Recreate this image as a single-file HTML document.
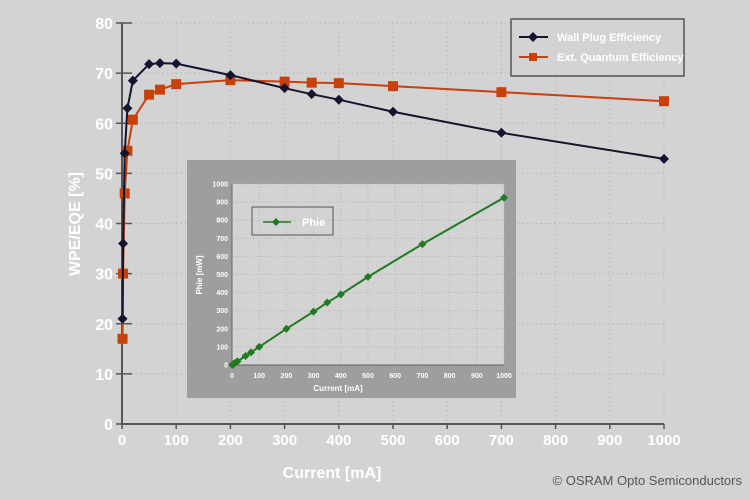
<!DOCTYPE html>
<html><head><meta charset="utf-8"><style>
body{margin:0;background:#d3d3d3;}
svg{display:block;font-family:"Liberation Sans",sans-serif;}
</style></head><body>
<svg id="c" width="750" height="500" viewBox="0 0 750 500">
<rect width="750" height="500" fill="#d3d3d3"/>
<g id="main"></g>
<g id="inset"></g>
</svg>
<script>
const currents=[1,2,5,10,20,50,70,100,200,300,350,400,500,700,1000];
const wpe=[21,36,54,63,68.5,71.8,72,71.9,69.6,67,65.8,64.7,62.3,58.1,52.9];
const eqe=[17,30,46,54.5,60.7,65.7,66.7,67.8,68.6,68.3,68.1,68,67.4,66.2,64.4];
const phi=[1,2,5,10,20,50,70,100,200,295,345,390,487,668,925];
const xTicks=[0,100,200,300,400,500,600,700,800,900,1000];
const yTicks=[0,10,20,30,40,50,60,70,80];
const insetYTicks=[0,100,200,300,400,500,600,700,800,900,1000];
const NS="http://www.w3.org/2000/svg";
function mk(parent,tag,attrs,name,text){const e=document.createElementNS(NS,tag);for(const k in attrs)e.setAttribute(k,attrs[k]);


if(text!==undefined)e.textContent=text;parent.appendChild(e);return e;}
const main=document.getElementById('main'),inset=document.getElementById('inset');
const X=v=>122+v*(664-122)/1000, Y=v=>424-v*(424-23)/80;
// grid
xTicks.forEach(t=>{if(t>0)mk(main,'line',{x1:X(t),x2:X(t),y1:Y(80),y2:Y(0),stroke:'#b8b8b8','stroke-dasharray':'1.5,3'},'x-grid-line');
mk(main,'text',{x:X(t),y:445,'text-anchor':'middle','font-size':15,'font-weight':'bold',fill:'#fff'},'x-tick-label',t);
mk(main,'line',{x1:X(t),x2:X(t),y1:Y(0),y2:Y(0)+5,stroke:'#555','stroke-width':1.5},'x-tick');});
yTicks.forEach(t=>{if(t>0)mk(main,'line',{x1:X(0),x2:X(1000),y1:Y(t),y2:Y(t),stroke:'#b8b8b8','stroke-dasharray':'1.5,3'},'y-grid-line');
mk(main,'text',{x:113,y:Y(t)+6,'text-anchor':'end','font-size':16,'font-weight':'bold',fill:'#fff'},'y-tick-label',t);
mk(main,'line',{x1:X(0)-6,x2:X(0)+10,y1:Y(t),y2:Y(t),stroke:'#555','stroke-width':1.5},'y-tick');});
mk(main,'line',{x1:X(0),x2:X(0),y1:Y(80),y2:Y(0),stroke:'#555','stroke-width':2},'y-axis-line');
mk(main,'line',{x1:X(0),x2:X(1000),y1:Y(0),y2:Y(0),stroke:'#555','stroke-width':2},'x-axis-line');
mk(main,'text',{x:332,y:478,'text-anchor':'middle','font-size':16,'font-weight':'bold',fill:'#fff'},'x-axis-title','Current [mA]');
mk(main,'text',{x:0,y:0,transform:'translate(80,224) rotate(-90)','text-anchor':'middle','font-size':16,'font-weight':'bold',fill:'#fff'},'y-axis-title','WPE/EQE [%]');
function series(g,xs,ys,xf,yf,col,shape,name,sz){
 mk(g,'polyline',{points:xs.map((x,i)=>xf(x)+','+yf(ys[i])).join(' '),fill:'none',stroke:col,'stroke-width':2},name+'-line');
 xs.forEach((x,i)=>{const cx=xf(x),cy=yf(ys[i]);
  if(shape==='sq')mk(g,'rect',{x:cx-sz,y:cy-sz,width:2*sz,height:2*sz,fill:col},name+'-point');
  else mk(g,'polygon',{points:`${cx},${cy-sz} ${cx+sz},${cy} ${cx},${cy+sz} ${cx-sz},${cy}`,fill:col},name+'-point');});}
series(main,currents,eqe,X,Y,'#c8400a','sq','eqe',5);
series(main,currents,wpe,X,Y,'#14142e','dia','wpe',5);
// legend
const lg=mk(main,'g',{},'legend');
mk(lg,'rect',{x:511,y:19,width:173,height:57,fill:'#d3d3d3',stroke:'#555','stroke-width':1.5},'legend-box');
mk(lg,'line',{x1:519,x2:548,y1:37,y2:37,stroke:'#14142e','stroke-width':2},'legend-wpe-line');
mk(lg,'polygon',{points:'533,32 538,37 533,42 528,37',fill:'#14142e'},'legend-wpe-marker');
mk(lg,'text',{x:557,y:41,'font-size':11,'font-weight':'bold',fill:'#fff'},'legend-wpe-label','Wall Plug Efficiency');
mk(lg,'line',{x1:519,x2:548,y1:57,y2:57,stroke:'#c8400a','stroke-width':2},'legend-eqe-line');
mk(lg,'rect',{x:529,y:53,width:8,height:8,fill:'#c8400a'},'legend-eqe-marker');
mk(lg,'text',{x:557,y:61,'font-size':11,'font-weight':'bold',fill:'#fff'},'legend-eqe-label','Ext. Quantum Efficiency');
// inset
const IX=v=>232+v*(504-232)/1000, IY=v=>365-v*(365-184)/1000;
mk(inset,'rect',{x:187,y:160,width:329,height:238,fill:'#9e9e9e'},'inset-frame');
mk(inset,'rect',{x:IX(0),y:IY(1000),width:IX(1000)-IX(0),height:IY(0)-IY(1000),fill:'#d3d3d3'},'inset-plot-area');
xTicks.forEach(t=>{if(t>0)mk(inset,'line',{x1:IX(t),x2:IX(t),y1:IY(1000),y2:IY(0),stroke:'#b8b8b8','stroke-dasharray':'1,2'},'inset-x-grid');
mk(inset,'text',{x:IX(t),y:378,'text-anchor':'middle','font-size':7,'font-weight':'bold',fill:'#fff'},'inset-x-tick-label',t);});
insetYTicks.forEach(t=>{if(t>0)mk(inset,'line',{x1:IX(0),x2:IX(1000),y1:IY(t),y2:IY(t),stroke:'#b8b8b8','stroke-dasharray':'1,2'},'inset-y-grid');
mk(inset,'text',{x:228,y:IY(t)+2.5,'text-anchor':'end','font-size':7,'font-weight':'bold',fill:'#fff'},'inset-y-tick-label',t);});
mk(inset,'line',{x1:IX(0),x2:IX(0),y1:IY(1000),y2:IY(0),stroke:'#666','stroke-width':1},'inset-y-axis');
mk(inset,'line',{x1:IX(0),x2:IX(1000),y1:IY(0),y2:IY(0),stroke:'#666','stroke-width':1},'inset-x-axis');
mk(inset,'text',{x:338,y:391,'text-anchor':'middle','font-size':8,'font-weight':'bold',fill:'#fff'},'inset-x-axis-title','Current [mA]');
mk(inset,'text',{x:0,y:0,transform:'translate(202,275) rotate(-90)','text-anchor':'middle','font-size':8,'font-weight':'bold',fill:'#fff'},'inset-y-axis-title','Phie [mW]');
series(inset,currents,phi,IX,IY,'#1f7a22','dia','phi',4);
mk(inset,'rect',{x:252,y:207,width:81,height:28,fill:'none',stroke:'#555','stroke-width':1},'inset-legend-box');
mk(inset,'line',{x1:263,x2:291,y1:222,y2:222,stroke:'#1f7a22','stroke-width':1.5},'inset-legend-line');
mk(inset,'polygon',{points:'276,218 280,222 276,226 272,222',fill:'#1f7a22'},'inset-legend-marker');
mk(inset,'text',{x:302,y:226,'font-size':11,'font-weight':'bold',fill:'#fff'},'inset-legend-label','Phie');
mk(main,'text',{x:742,y:485,'text-anchor':'end','font-size':13,fill:'#555'},'copyright','© OSRAM Opto Semiconductors');
</script>
</body></html>
